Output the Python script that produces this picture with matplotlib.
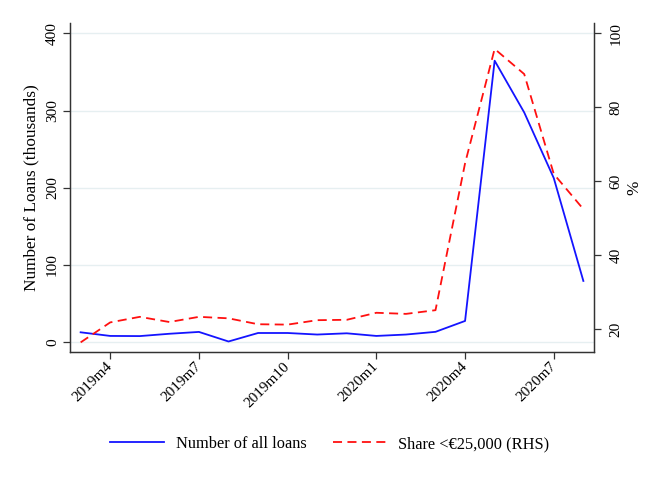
import matplotlib
matplotlib.use("Agg")
import matplotlib.pyplot as plt

# Datos mensuales, 2019m3 - 2020m8
months = ['2019m3', '2019m4', '2019m5', '2019m6', '2019m7', '2019m8',
          '2019m9', '2019m10', '2019m11', '2019m12', '2020m1', '2020m2',
          '2020m3', '2020m4', '2020m5', '2020m6', '2020m7', '2020m8']
loans = [12.9, 8.2, 8.0, 11.0, 13.4, 1.0, 12.0, 12.0, 10.0, 11.6, 8.2, 10.0,
         13.5, 27.6, 364.5, 297.5, 212.5, 79.4]
share = [16.5, 21.9, 23.4, 22.0, 23.4, 23.0, 21.4, 21.3, 22.5, 22.6, 24.5, 24.2,
         25.2, 64.9, 95.8, 89.0, 62.0, 52.5]
tick_months = ['2019m4', '2019m7', '2019m10', '2020m1', '2020m4', '2020m7']
left_ticks = [0, 100, 200, 300, 400]
right_ticks = [20, 40, 60, 80, 100]

plt.rcParams['font.family'] = ['Liberation Serif', 'DejaVu Serif']

x = list(range(len(months)))
spine_col = '#333333'

fig = plt.figure(figsize=(6.54, 4.8), dpi=100)
ax = fig.add_axes([70 / 654, 1 - 352 / 480, 524 / 654, 329 / 480])
ax2 = ax.twinx()

l1, = ax.plot(x, loans, color='#1414ff', lw=1.3, label='Number of all loans')
l2, = ax2.plot(x, share, color='#ff1010', lw=1.3, dashes=(5, 3),
               label='Share <€25,000 (RHS)')

ax.set_xlim(-0.36, 17.36)
ax.set_ylim(-12.6, 413.3)
ax2.set_ylim(13.9, 102.8)

ax.set_yticks(left_ticks)
ax.set_yticklabels([str(v) for v in left_ticks], rotation=90, va='center')
ax2.set_yticks(right_ticks)
ax2.set_yticklabels([str(v) for v in right_ticks], rotation=90, va='center')

ax.set_xticks([months.index(m) for m in tick_months])
ax.set_xticklabels(tick_months, rotation=45, ha='right', va='center',
                   rotation_mode='anchor')

ax.grid(axis='y', color='#e6eff1', lw=1.0)
ax.set_axisbelow(True)

for a in (ax, ax2):
    a.spines['top'].set_visible(False)
    for s in ('left', 'right', 'bottom'):
        a.spines[s].set_color(spine_col)
        a.spines[s].set_linewidth(0.9)
    a.tick_params(direction='out', length=5, width=0.9, color=spine_col,
                  labelsize=11, pad=3)
ax.tick_params(axis='x', pad=4)
ax2.tick_params(axis='y', pad=6)

ax.set_ylabel('Number of Loans (thousands)', fontsize=12.4, labelpad=5)
ax2.set_ylabel('%', fontsize=12.4, labelpad=3)

fig.legend(handles=[l1, l2], loc='center', bbox_to_anchor=(330 / 654, 1 - 444 / 480),
           ncol=2, frameon=False, fontsize=11.8, handlelength=3.3,
           handletextpad=0.7, columnspacing=1.6)

plt.savefig('out.png', dpi=100)
